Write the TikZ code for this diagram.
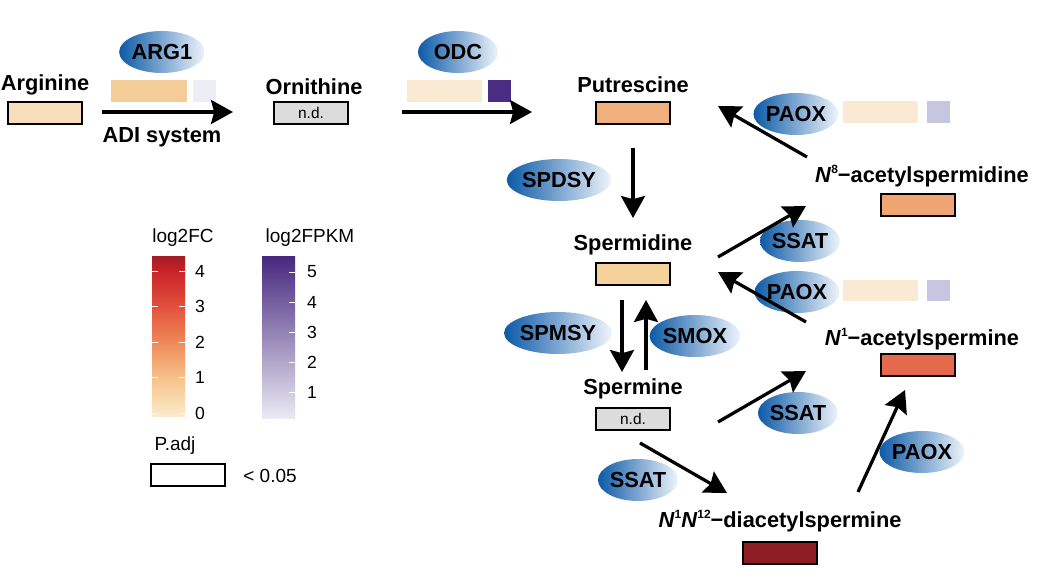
\documentclass[tikz,border=0pt]{standalone}
\usepackage{fontspec}
\setmainfont{Liberation Sans}
\usepackage{tikz}
\usetikzlibrary{arrows.meta,shapes.geometric,backgrounds}

\definecolor{enzdark}{HTML}{0D5AA7}
\definecolor{enzmid}{HTML}{3F86CC}
\definecolor{enzlight}{HTML}{EEF4FB}
\definecolor{ndgray}{HTML}{DCDCDC}
\definecolor{argfill}{HTML}{F7DDB9}
\definecolor{putfill}{HTML}{F0B07E}
\definecolor{spdfill}{HTML}{F6D29B}
\definecolor{n8fill}{HTML}{EFA474}
\definecolor{n1fill}{HTML}{E5694C}
\definecolor{difill}{HTML}{8E1D23}
\definecolor{argbar}{HTML}{F4CC98}
\definecolor{argsq}{HTML}{EDEDF5}
\definecolor{palebar}{HTML}{FAE9D3}
\definecolor{odcsq}{HTML}{4B2C84}
\definecolor{lavsq}{HTML}{C6C6E1}
\definecolor{fc0}{HTML}{FCEBCB}
\definecolor{fc1}{HTML}{F6C38A}
\definecolor{fc2}{HTML}{EE8A58}
\definecolor{fc3}{HTML}{E2503C}
\definecolor{fc4}{HTML}{C92228}
\definecolor{fctop}{HTML}{A31C24}
\definecolor{fpkmlow}{HTML}{EAEAF3}
\definecolor{fpkmhigh}{HTML}{47277F}

\newcommand{\metfont}{\fontsize{15.5}{18}\selectfont\bfseries}
\newcommand{\legfont}{\fontsize{13.5}{16}\selectfont}
\newcommand{\numfont}{\fontsize{12.5}{15}\selectfont}
\newcommand{\ndfont}{\fontsize{11}{13}\selectfont}
\newcommand{\supx}[1]{\raisebox{0.75ex}{\fontsize{8.5}{9}\selectfont\bfseries #1}}

\tikzset{
  met/.style={font=\metfont, inner sep=0pt},
  mbox/.style={draw=black, line width=1.9pt, minimum width=1.85cm, minimum height=0.55cm, inner sep=0pt},
  enz/.style={ellipse, minimum width=2cm, minimum height=1.05cm, inner sep=0pt,
    left color=enzdark, middle color=enzmid, right color=enzlight, font=\metfont},
  expbar/.style={minimum width=1.875cm, minimum height=0.54cm, inner sep=0pt},
  expsq/.style={minimum width=0.575cm, minimum height=0.54cm, inner sep=0pt},
  flow/.style={-{Stealth[length=0.55cm,width=0.6cm,inset=0.08cm]}, line width=2.3pt},
  legtick/.style={white, line width=0.6pt}
}

\begin{document}
\begin{tikzpicture}[x=0.025cm, y=-0.025cm]
\useasboundingbox[fill=white] (0,0) rectangle (1044,584);

% enzymes
\node[enz] (argi) at (162,52) {ARG1};
\node[enz] (odc) at (458,52) {ODC};
\node[enz, minimum width=2.55cm] (spdsy) at (559,180) {SPDSY};
\node[enz, minimum width=2.5cm] (spmsy) at (558,333) {SPMSY};
\node[enz, minimum width=1.9cm] (smox) at (695,336) {SMOX};
\node[enz] (paoxa) at (796,114) {PAOX};
\node[enz] (ssata) at (800,241) {SSAT};
\node[enz] (paoxb) at (797,292) {PAOX};
\node[enz] (ssatb) at (798,413) {SSAT};
\node[enz] (ssatc) at (638,480) {SSAT};
\node[enz] (paoxc) at (922,452) {PAOX};

% expression bars
\node[expbar, fill=argbar] (argibar) at (149,91) {};
\node[expsq, fill=argsq] (argisq) at (204.5,91) {};
\node[expbar, fill=palebar] (odcbar) at (444.5,91) {};
\node[expsq, fill=odcsq] (odcsqr) at (499.5,91) {};
\node[expbar, fill=palebar] (paoxabar) at (880.5,112) {};
\node[expsq, fill=lavsq] (paoxasq) at (938,112) {};
\node[expbar, fill=palebar] (paoxbbar) at (880.5,290.5) {};
\node[expsq, fill=lavsq] (paoxbsq) at (938,290.5) {};

% metabolites
\node[met] (arglab) at (45,85) {Arginine};
\node[mbox, fill=argfill] (argbox) at (45,113) {};
\node[met] (adi) at (162,137) {ADI system};
\node[met] (ornlab) at (314,87) {Ornithine};
\node[mbox, fill=ndgray, font=\ndfont] (ornbox) at (311,113) {n.d.};
\node[met] (putlab) at (633,85) {Putrescine};
\node[mbox, fill=putfill] (putbox) at (633,113) {};
\node[met] (spdlab) at (633,245) {Spermidine};
\node[mbox, fill=spdfill] (spdbox) at (633,274) {};
\node[met] (spmlab) at (633,389) {Spermine};
\node[mbox, fill=ndgray, font=\ndfont] (spmbox) at (633,419) {n.d.};
\node[met] (ntlab) at (922,176) {\textit{N}\supx{8}−acetylspermidine};
\node[mbox, fill=n8fill] (ntbox) at (918,205) {};
\node[met] (nolab) at (922,339) {\textit{N}\supx{1}−acetylspermine};
\node[mbox, fill=n1fill] (nobox) at (918,365) {};
\node[met] (dilab) at (780,521) {\textit{N}\supx{1}\textit{N}\supx{12}−diacetylspermine};
\node[mbox, fill=difill] (dibox) at (780,553) {};

% arrow ends
\coordinate (adiS) at (102,112);
\coordinate (adiE) at (233,112);
\coordinate (odcS) at (402,112);
\coordinate (odcE) at (532,112);
\coordinate (spdsyS) at (633,148);
\coordinate (spdsyE) at (633,218);
\coordinate (spmsyS) at (622,300);
\coordinate (spmsyE) at (622,372);
\coordinate (smoxS) at (646,370);
\coordinate (smoxE) at (646,300);
\coordinate (paoxaS) at (807,157);
\coordinate (paoxaE) at (718,106);
\coordinate (ssataS) at (718,257);
\coordinate (ssataE) at (806,206);
\coordinate (paoxbS) at (806,322);
\coordinate (paoxbE) at (718,272);
\coordinate (ssatbS) at (718,422);
\coordinate (ssatbE) at (806,371);
\coordinate (ssatcS) at (640,443);
\coordinate (ssatcE) at (727,493);
\coordinate (paoxcS) at (858,492);
\coordinate (paoxcE) at (905,390);

\foreach \s in {adi,odc,spdsy,spmsy,smox,paoxa,ssata,paoxb,ssatb,ssatc,paoxc}
  \draw[flow] (\s S) -- (\s E);

% legend
\node[font=\legfont] (fclab) at (183,238) {log2FC};
\node[font=\legfont] (fpkmlab) at (310,238) {log2FPKM};
\foreach \ya/\yb/\ca/\cb in {378/416.5/fc1/fc0, 342/378.5/fc2/fc1, 306/342.5/fc3/fc2, 271/306.5/fc4/fc3, 256/271.5/fctop/fc4}
  \shade[top color=\ca, bottom color=\cb] (152,\ya) rectangle (185,\yb);
\foreach \v [evaluate=\v as \yy using 413-35.5*\v] in {0,...,4} {
  \draw[legtick] (152,\yy) -- (158,\yy);
  \draw[legtick] (179,\yy) -- (185,\yy);
  \node[font=\numfont] at (200,\yy) {\v};
}
\shade[top color=fpkmhigh, bottom color=fpkmlow] (262,256) rectangle (295,418);
\foreach \v [evaluate=\v as \yy using 422-30*\v] in {1,...,5} {
  \draw[legtick] (289,\yy) -- (295,\yy);
  \node[font=\numfont] at (312,\yy) {\v};
}
\node[font=\legfont] (padj) at (175,446) {P.adj};
\node[mbox, fill=white] (padjbox) at (188,475) {};
\node[font=\legfont] (padjval) at (270,476) {< 0.05};
\end{tikzpicture}
\end{document}
